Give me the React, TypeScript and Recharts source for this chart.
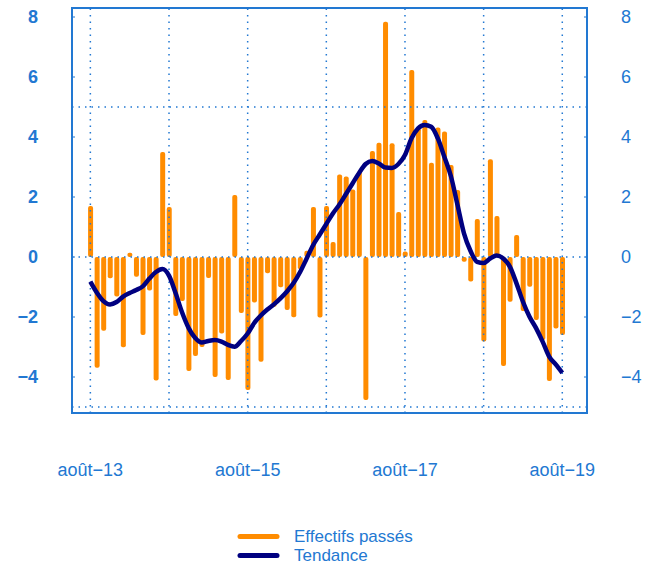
import { ComposedChart, Bar, Line, XAxis, YAxis, ReferenceLine, ReferenceArea, Legend } from 'recharts'

// one value per month, août 2013 -> août 2019
const effectifs = [
  1.7, -3.69, -2.46, -0.71, -1.32, -3.01, 0.14, -0.66, -2.6, -1.12, -4.12, 3.5,
  1.67, -1.97, -1.47, -3.8, -3.3, -3.0, -0.7, -4.0, -2.55, -4.1, 2.07, -1.87,
  -4.43, -1.52, -3.49, -0.54, -1.66, -1.01, -1.77, -2.01, -0.41, 0.21, 1.67, -2.02,
  1.7, 0.5, 2.75, 2.68, 2.25, 2.85, -4.77, 3.53, 3.81, 7.84, 3.79, 1.5,
  0.18, 6.23, 4.29, 4.57, 3.14, 4.32, 4.18, 3.07, 2.23, -0.16, -0.82, 1.27,
  -2.82, 3.26, 1.37, -3.63, -1.49, 0.73, -1.8, -0.99, -2.1, -2.77, -4.13, -2.38,
  -2.6,
]

const tendance = [
  -0.82, -1.19, -1.47, -1.58, -1.5, -1.32, -1.2, -1.1, -0.98, -0.72, -0.5, -0.4,
  -0.62, -1.2, -1.85, -2.37, -2.7, -2.85, -2.8, -2.77, -2.82, -2.93, -2.99, -2.8,
  -2.55, -2.2, -1.95, -1.75, -1.58, -1.38, -1.15, -0.87, -0.5, -0.05, 0.4, 0.75,
  1.1, 1.45, 1.75, 2.1, 2.45, 2.8, 3.1, 3.2, 3.12, 2.98, 2.97, 3.1,
  3.4, 3.96, 4.29, 4.4, 4.34, 3.96, 3.34, 2.7, 1.75, 0.79, 0.2, -0.16,
  -0.2, -0.05, 0.05, -0.05, -0.32, -0.87, -1.49, -1.99, -2.37, -2.82, -3.32, -3.58,
  -3.86,
]

const xTicks = [0, 24, 48, 72]
const xTickLabels = ['août−13', 'août−15', 'août−17', 'août−19']
const yearLines = [0, 12, 24, 36, 48, 60, 72]
const yTicks = [-4, -2, 0, 2, 4, 6, 8]
const hLines = [-5, 0, 5]

const data = effectifs.map((v, i) => ({ i, effectifs: v, tendance: tendance[i] }))

const BLUE = '#2278d2'
const ORANGE = '#ff8c00'
const NAVY = '#000080'
const FONT = '"Liberation Sans", Arial, sans-serif'
const X_DOMAIN: [number, number] = [-2.8, 75.77]
const Y_DOMAIN: [number, number] = [-5.2, 8.3]

function LegendBox() {
  const items = [
    { label: 'Effectifs passés', color: ORANGE },
    { label: 'Tendance', color: NAVY },
  ]
  return (
    <div style={{ fontFamily: FONT, fontSize: 17, color: BLUE, lineHeight: '19px' }}>
      {items.map(it => (
        <div key={it.label} style={{ display: 'flex', alignItems: 'center', height: 19 }}>
          <svg width={58} height={19}>
            <line x1={4} y1={9.5} x2={41} y2={9.5} stroke={it.color} strokeWidth={5} strokeLinecap="round" />
          </svg>
          <span>{it.label}</span>
        </div>
      ))}
    </div>
  )
}

export default function App() {
  return (
    <div style={{ position: 'absolute', left: 0, top: 0 }}>
      <ComposedChart width={656} height={567} data={data} margin={{ top: 8, right: 9, bottom: 94, left: 12 }}>
        <XAxis
          dataKey="i"
          type="number"
          domain={X_DOMAIN}
          allowDataOverflow
          ticks={xTicks}
          tickFormatter={v => xTickLabels[xTicks.indexOf(v)] ?? ''}
          axisLine={false}
          tickLine={false}
          tickSize={0}
          tickMargin={50}
          height={60}
          tick={{ fill: BLUE, fontSize: 18, fontFamily: FONT }}
        />
        <YAxis
          yAxisId="left"
          domain={Y_DOMAIN}
          ticks={yTicks}
          allowDataOverflow
          width={60}
          axisLine={false}
          tickLine={{ stroke: BLUE }}
          tickSize={-3}
          tickMargin={37}
          tickFormatter={v => (v < 0 ? `−${Math.abs(v)}` : `${v}`)}
          tick={{ fill: BLUE, fontSize: 18, fontFamily: FONT, fontWeight: 'bold' }}
        />
        <YAxis
          yAxisId="right"
          orientation="right"
          domain={Y_DOMAIN}
          ticks={yTicks}
          allowDataOverflow
          width={60}
          axisLine={false}
          tickLine={{ stroke: BLUE }}
          tickSize={-3}
          tickMargin={37}
          tickFormatter={v => (v < 0 ? `−${Math.abs(v)}` : `${v}`)}
          tick={{ fill: BLUE, fontSize: 18, fontFamily: FONT }}
        />
        {yearLines.map(x => (
          <ReferenceLine key={'v' + x} yAxisId="left" x={x} stroke={BLUE} strokeWidth={1.5} strokeDasharray="1.5 5" />
        ))}
        {hLines.map(y => (
          <ReferenceLine key={'h' + y} yAxisId="left" y={y} stroke={BLUE} strokeWidth={1.5} strokeDasharray="1.5 5" />
        ))}
        <Bar yAxisId="left" dataKey="effectifs" fill={ORANGE} barSize={5} radius={2} isAnimationActive={false} />
        <Line
          yAxisId="left"
          dataKey="tendance"
          type="monotone"
          stroke={NAVY}
          strokeWidth={4.5}
          dot={false}
          isAnimationActive={false}
        />
        <ReferenceArea
          yAxisId="left"
          x1={X_DOMAIN[0]}
          x2={X_DOMAIN[1]}
          y1={Y_DOMAIN[0]}
          y2={Y_DOMAIN[1]}
          fill="none"
          stroke={BLUE}
          strokeWidth={2}
        />
        <Legend
          layout="vertical"
          align="center"
          verticalAlign="middle"
          wrapperStyle={{ left: 236, top: 527, width: 220 }}
          content={() => <LegendBox />}
        />
      </ComposedChart>
    </div>
  )
}
